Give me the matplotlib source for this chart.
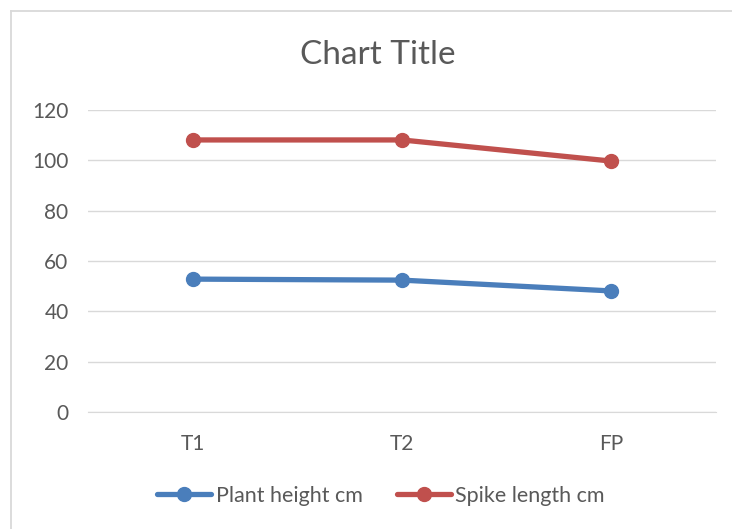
import matplotlib.pyplot as plt
from matplotlib.lines import Line2D

categories = ["T1", "T2", "FP"]
plant_height = [52.8, 52.4, 48.1]
spike_length = [108.1, 108.1, 99.7]
series_names = ["Plant height cm", "Spike length cm"]

plt.rcParams['font.family'] = ['Lato', 'DejaVu Sans']
text_color = "#595959"
grid_color = "#D9D9D9"

fig = plt.figure(figsize=(7.32, 5.29), dpi=100)
W, H = 732, 529
ax = fig.add_axes([88 / W, 1 - 412 / H, (716 - 88) / W, (412 - 110) / H])

# outer chart frame: only left and top edges fall inside the image
fig.add_artist(Line2D([11 / W, 11 / W], [-0.01, 1 - 11 / H], transform=fig.transFigure,
                      color=grid_color, lw=1.3))
fig.add_artist(Line2D([11 / W, 1.01], [1 - 11 / H, 1 - 11 / H], transform=fig.transFigure,
                      color=grid_color, lw=1.3))

x = range(len(categories))
ax.plot(x, plant_height, color="#4A7EBB", lw=3.8, marker="o", ms=10,
        label=series_names[0], solid_capstyle="round")
ax.plot(x, spike_length, color="#C0504D", lw=3.8, marker="o", ms=10,
        label=series_names[1], solid_capstyle="round")

ax.set_xlim(-0.5, 2.5)
ax.set_ylim(0, 120)
ax.set_yticks(range(0, 121, 20))
ax.set_xticks(list(x))
ax.set_xticklabels(categories)
ax.yaxis.grid(True, color=grid_color, lw=1)
ax.set_axisbelow(True)
for s in ["left", "right", "top"]:
    ax.spines[s].set_visible(False)
ax.spines["bottom"].set_color(grid_color)
ax.tick_params(length=0, labelsize=15, colors=text_color, pad=14)
ax.tick_params(axis="x", pad=16)

fig.text(378 / W, 1 - 55 / H, "Chart Title", ha="center", va="center",
         fontsize=24, color=text_color)

leg = fig.legend(loc="center", bbox_to_anchor=(381 / W, 1 - 496 / H), ncol=2,
                 frameon=False, fontsize=15.5, handlelength=2.5,
                 handletextpad=0.2, columnspacing=1.6)
for t in leg.get_texts():
    t.set_color(text_color)

fig.savefig("out.png", dpi=100)
